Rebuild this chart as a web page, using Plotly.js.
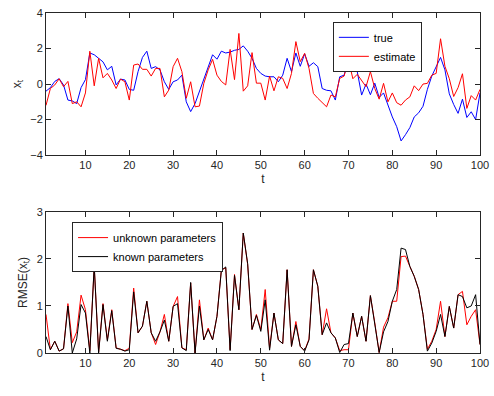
<!DOCTYPE html>
<html>
<head>
<meta charset="utf-8">
<script src="https://cdn.plot.ly/plotly-3.0.1.min.js"></script>
<style>
  html, body { margin: 0; padding: 0; background: #fff; }
  #graph { width: 494px; height: 396px; }
</style>
</head>
<body>
<div id="graph"></div>
<script>
// state x_t: true vs estimate, t = 1..100
const trueX = [
    -0.4, -0.2, 0.15, 0.3, -0.05, -0.9, -0.95, -1.1, -0.2, 0.25,
    1.75, 1.65, 1.45, 1.25, 0.8, 1.0, -0.05, 0.28, 0.23, -0.3,
    -0.35, 0.7, 1.5, 1.85, 0.88, 0.98, 0.8, 0.13, -0.3, 0.13,
    0.23, 0.5, -1.0, -1.55, -1.1, -0.43, 0.23, 1.0, 1.65, 1.4,
    1.85, 1.75, 1.8, 1.9, 1.95, 2.15, 1.85, 1.45, 0.88, 0.6,
    0.45, 0.41, 0.41, 0.13, 0.5, 1.45, 0.7, 1.75, 1.0, 1.7,
    1.0, 1.2, 0.98, -0.25, -0.35, -0.38, -0.9, 0.41, 0.5, 1.36,
    0.9, 0.7, -0.62, 0.0, -0.6, 0.05, -0.75, -0.5, -1.2, -1.85,
    -2.4, -3.2, -2.85, -2.45, -1.85, -1.62, -1.25, -0.3, 0.45, 0.95,
    1.5, 0.8, -0.55, -1.15, -1.65, -0.85, -1.88, -1.56, -2.0, -0.5
]
const estX = [
    -1.2, -0.25, -0.05, 0.3, -0.15, 0.15, -1.1, -1.0, -1.28, -0.5,
    1.85, -0.1, 1.45, 0.35, 0.6, 0.23, -0.25, 0.28, 0.13, -0.9,
    1.07, 1.13, 0.83, 0.83, 0.45, 0.88, 0.88, -0.72, -0.34, 0.98,
    1.45, 0.7, -0.8, 0.13, -1.28, -1.24, 0.04, 0.8, 1.39, 0.5,
    0.15, -0.05, 1.95, 0.25, 2.85, -0.4, -0.1, 1.77, 0.05, 0.05,
    -0.9, 0.45, -0.38, 0.41, 0.32, -0.25, 0.6, 2.39, 1.26, 1.73,
    0.88, -0.53, -0.8, -1.05, -1.28, -0.62, -0.72, 0.32, 0.45, 1.35,
    0.3, 0.55, 0.23, -0.15, 0.7, -0.25, -0.85, 0.04, -1.0, -0.5,
    -1.05, -1.19, -0.9, -0.72, -0.1, -0.37, 0.0, 0.04, 0.5, 0.6,
    2.55, 1.0, 0.3, -0.7, -0.2, 0.58, -1.37, -0.65, -0.9, -0.3
]

// RMSE(x_t) for unknown / known parameters
const rmseUnknown = [
    0.82, 0.07, 0.25, 0.04, 0.09, 1.05, 0.22, 0.45, 1.23, 0.92,
    0.05, 1.84, 0.02, 1.05, 0.28, 0.92, 0.11, 0.08, 0.05, 0.1,
    1.38, 0.43, 0.57, 1.1, 0.43, 0.18, 0.45, 0.82, 0.25, 0.99,
    1.2, 0.11, 0.07, 1.49, 0.0, 1.13, 0.28, 0.53, 0.28, 0.78,
    1.77, 1.81, 0.07, 1.67, 0.92, 2.55, 1.88, 0.5, 0.82, 0.5,
    1.35, 0.1, 0.85, 0.28, 0.2, 1.77, 0.14, 0.67, 0.14, 0.05,
    0.3, 1.77, 1.42, 0.39, 0.94, 0.43, 0.32, 0.05, 0.07, 0.07,
    0.85, 0.35, 0.78, 0.25, 1.22, 0.64, 0.01, 0.55, 0.75, 1.1,
    1.1, 2.05, 2.06, 1.84, 1.63, 1.35, 0.82, 0.08, 0.25, 0.5,
    1.1, 0.35, 0.99, 0.53, 1.24, 1.31, 0.6, 0.78, 0.92, 0.18
]
const rmseKnown = [
    0.35, 0.07, 0.25, 0.04, 0.09, 1.0, 0.0, 0.3, 1.03, 0.85,
    0.0, 1.86, 0.0, 1.03, 0.25, 0.9, 0.1, 0.08, 0.04, 0.07,
    1.3, 0.43, 0.57, 1.1, 0.43, 0.25, 0.45, 0.7, 0.25, 0.99,
    1.05, 0.11, 0.05, 1.5, 0.0, 1.0, 0.28, 0.5, 0.28, 0.78,
    1.75, 1.83, 0.05, 1.65, 0.92, 2.55, 1.9, 0.5, 0.8, 0.46,
    1.13, 0.06, 0.85, 0.28, 0.2, 1.77, 0.14, 0.6, 0.14, 0.04,
    0.28, 1.77, 1.42, 0.39, 0.64, 0.43, 0.32, 0.01, 0.18, 0.2,
    0.85, 0.35, 0.78, 0.25, 1.22, 0.64, 0.01, 0.45, 0.67, 1.1,
    1.35, 2.23, 2.2, 1.84, 1.63, 1.35, 0.82, 0.04, 0.21, 0.46,
    0.82, 0.35, 0.99, 0.53, 1.24, 1.2, 0.96, 1.0, 1.24, 0.18
]

const xTicks = [10, 20, 30, 40, 50, 60, 70, 80, 90, 100]
const topYTicks = [-4, -2, 0, 2, 4]
const bottomYTicks = [0, 1, 2, 3]

const t = trueX.map((_, i) => i + 1)

const axisColor = "#262626"

const makeAxis = (extra) => Object.assign({
    showline: true,
    mirror: "ticks",
    linecolor: axisColor,
    linewidth: 1,
    ticks: "inside",
    ticklen: 5,
    tickcolor: axisColor,
    showgrid: false,
    zeroline: false,
    tickfont: {size: 11, color: axisColor},
}, extra)

const plotData = [
    {x: t, y: trueX, type: "scatter", mode: "lines", name: "true",
     line: {color: "#0000ff", width: 1}, xaxis: "x", yaxis: "y", legend: "legend"},
    {x: t, y: estX, type: "scatter", mode: "lines", name: "estimate",
     line: {color: "#ff0000", width: 1}, xaxis: "x", yaxis: "y", legend: "legend"},
    {x: t, y: rmseUnknown, type: "scatter", mode: "lines", name: "unknown parameters",
     line: {color: "#ff0000", width: 1}, xaxis: "x2", yaxis: "y2", legend: "legend2"},
    {x: t, y: rmseKnown, type: "scatter", mode: "lines", name: "known parameters",
     line: {color: "#000000", width: 1}, xaxis: "x2", yaxis: "y2", legend: "legend2"},
]

const legendStyle = {
    xanchor: "left",
    yanchor: "top",
    bgcolor: "#ffffff",
    bordercolor: axisColor,
    borderwidth: 1,
    font: {size: 11, color: "#000"},
}

Plotly.newPlot("graph", plotData, {
    width: 494,
    height: 396,
    margin: {l: 46, r: 14, t: 13, b: 43},
    font: {family: "Liberation Sans, Arial, sans-serif", size: 11, color: axisColor},
    paper_bgcolor: "#fff",
    plot_bgcolor: "#fff",
    showlegend: true,
    xaxis: makeAxis({domain: [0, 1], anchor: "y", range: [1, 100], tickvals: xTicks,
        title: {text: "t", font: {size: 12}, standoff: 4}}),
    yaxis: makeAxis({domain: [0.582, 1], anchor: "x", range: [-4, 4], tickvals: topYTicks,
        title: {text: "x<sub>t</sub>", font: {size: 12}, standoff: 6}}),
    xaxis2: makeAxis({domain: [0, 1], anchor: "y2", range: [1, 100], tickvals: xTicks,
        title: {text: "t", font: {size: 12}, standoff: 4}}),
    yaxis2: makeAxis({domain: [0, 0.415], anchor: "x2", range: [0, 3], tickvals: bottomYTicks,
        title: {text: "RMSE(x<sub>t</sub>)", font: {size: 12}, standoff: 6}}),
    legend: Object.assign({x: 0.661, y: 0.974}, legendStyle),
    legend2: Object.assign({x: 0.06, y: 0.385}, legendStyle),
}, {staticPlot: true})
</script>
</body>
</html>
